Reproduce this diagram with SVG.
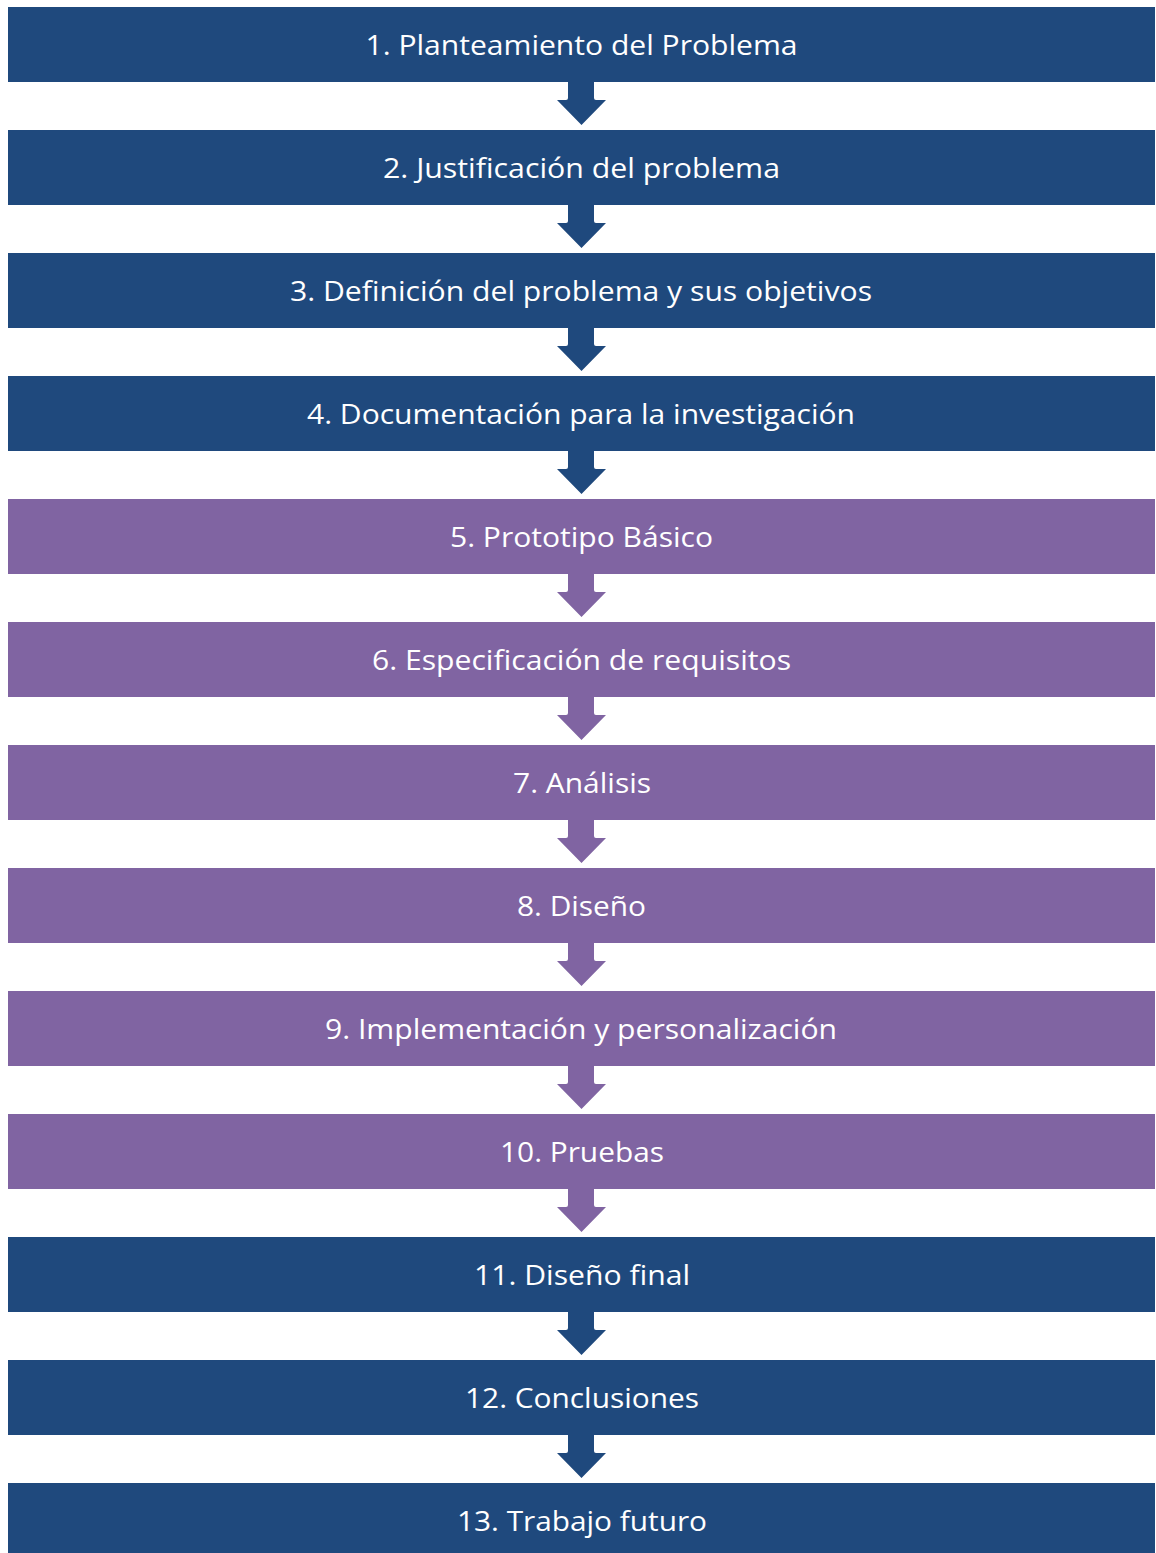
<svg xmlns="http://www.w3.org/2000/svg" width="1156" height="1553" viewBox="0 0 1156 1553">
  <defs>
    <style>
      .step rect { stroke: none; }
      .blue rect { fill: #1F497D; }
      .purple rect { fill: #8064A2; }
      .step text { fill: #FFFFFF; font-family: "Open Sans", "Noto Sans", "Liberation Sans", sans-serif; font-size: 28px; text-anchor: middle; }
      .arrow-blue { fill: #1F497D; }
      .arrow-purple { fill: #8064A2; }
    </style>
    <!-- down arrow, origin at the bottom centre of the box above -->
    <path id="down" d="M -13.5 0 L 12.5 0 L 12.5 16 Q 12.5 18 14.5 18 L 24.5 18 L 0 43 L -24.5 18 L -15.5 18 Q -13.5 18 -13.5 16 Z"/>
  </defs>
  <rect width="1156" height="1553" fill="#FFFFFF"/>

  <g id="connectors">
    <use href="#down" class="arrow-blue" x="581.5" y="82"/>
    <use href="#down" class="arrow-blue" x="581.5" y="205"/>
    <use href="#down" class="arrow-blue" x="581.5" y="328"/>
    <use href="#down" class="arrow-blue" x="581.5" y="451"/>
    <use href="#down" class="arrow-purple" x="581.5" y="574"/>
    <use href="#down" class="arrow-purple" x="581.5" y="697"/>
    <use href="#down" class="arrow-purple" x="581.5" y="820"/>
    <use href="#down" class="arrow-purple" x="581.5" y="943"/>
    <use href="#down" class="arrow-purple" x="581.5" y="1066"/>
    <use href="#down" class="arrow-purple" x="581.5" y="1189"/>
    <use href="#down" class="arrow-blue" x="581.5" y="1312"/>
    <use href="#down" class="arrow-blue" x="581.5" y="1435"/>
  </g>

  <g id="step1" class="step blue">
    <rect x="8" y="7" width="1147" height="75"/>
    <text x="581.5" y="55" textLength="432" lengthAdjust="spacingAndGlyphs">1. Planteamiento del Problema</text>
  </g>
  <g id="step2" class="step blue">
    <rect x="8" y="130" width="1147" height="75"/>
    <text x="581.5" y="178" textLength="397" lengthAdjust="spacingAndGlyphs">2. Justificación del problema</text>
  </g>
  <g id="step3" class="step blue">
    <rect x="8" y="253" width="1147" height="75"/>
    <text x="581" y="301" textLength="582" lengthAdjust="spacingAndGlyphs">3. Definición del problema y sus objetivos</text>
  </g>
  <g id="step4" class="step blue">
    <rect x="8" y="376" width="1147" height="75"/>
    <text x="581" y="424" textLength="548" lengthAdjust="spacingAndGlyphs">4. Documentación para la investigación</text>
  </g>
  <g id="step5" class="step purple">
    <rect x="8" y="499" width="1147" height="75"/>
    <text x="581.5" y="547" textLength="263" lengthAdjust="spacingAndGlyphs">5. Prototipo Básico</text>
  </g>
  <g id="step6" class="step purple">
    <rect x="8" y="622" width="1147" height="75"/>
    <text x="581.5" y="670" textLength="419" lengthAdjust="spacingAndGlyphs">6. Especificación de requisitos</text>
  </g>
  <g id="step7" class="step purple">
    <rect x="8" y="745" width="1147" height="75"/>
    <text x="582" y="793" textLength="138" lengthAdjust="spacingAndGlyphs">7. Análisis</text>
  </g>
  <g id="step8" class="step purple">
    <rect x="8" y="868" width="1147" height="75"/>
    <text x="581.5" y="916" textLength="129" lengthAdjust="spacingAndGlyphs">8. Diseño</text>
  </g>
  <g id="step9" class="step purple">
    <rect x="8" y="991" width="1147" height="75"/>
    <text x="581" y="1039" textLength="512" lengthAdjust="spacingAndGlyphs">9. Implementación y personalización</text>
  </g>
  <g id="step10" class="step purple">
    <rect x="8" y="1114" width="1147" height="75"/>
    <text x="582" y="1162" textLength="164" lengthAdjust="spacingAndGlyphs">10. Pruebas</text>
  </g>
  <g id="step11" class="step blue">
    <rect x="8" y="1237" width="1147" height="75"/>
    <text x="582" y="1285" textLength="216" lengthAdjust="spacingAndGlyphs">11. Diseño final</text>
  </g>
  <g id="step12" class="step blue">
    <rect x="8" y="1360" width="1147" height="75"/>
    <text x="582" y="1408" textLength="234" lengthAdjust="spacingAndGlyphs">12. Conclusiones</text>
  </g>
  <g id="step13" class="step blue">
    <rect x="8" y="1483" width="1147" height="75"/>
    <text x="582" y="1531" textLength="250" lengthAdjust="spacingAndGlyphs">13. Trabajo futuro</text>
  </g>
</svg>
